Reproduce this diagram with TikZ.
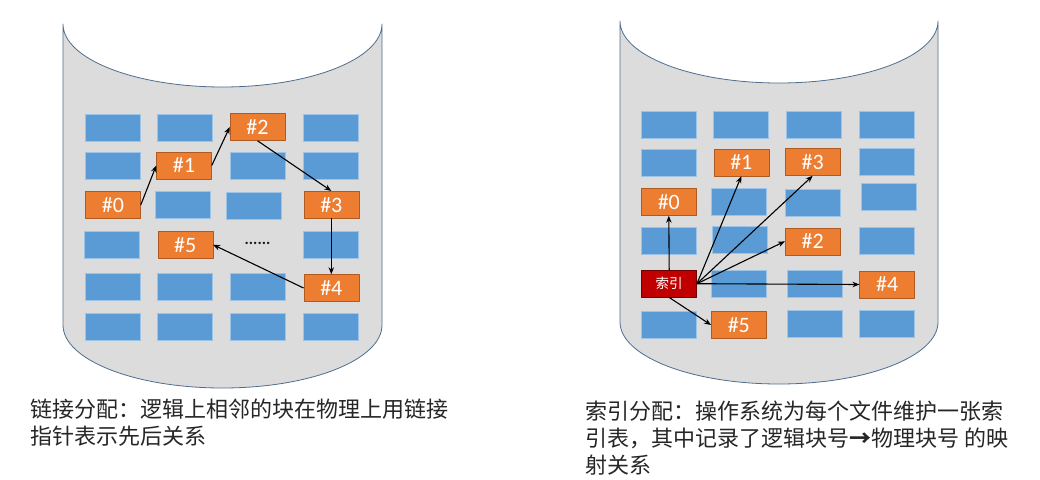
\documentclass[tikz,border=0pt]{standalone}
\usepackage{fontspec}
\setmainfont{Carlito}
\newfontfamily\cjk{Noto Sans CJK SC}
\usetikzlibrary{arrows.meta}
\definecolor{diskgray}{HTML}{DCDCDC}
\definecolor{diskline}{HTML}{4F6E8E}
\definecolor{blkblue}{HTML}{5B9BD5}
\definecolor{blkblueline}{HTML}{9DC3E6}
\definecolor{blkorange}{HTML}{ED7D31}
\definecolor{blkorangeline}{HTML}{AE5A21}
\definecolor{idxred}{HTML}{C00000}

\begin{document}
\begin{tikzpicture}[x=1pt, y=-1pt, line join=round, >={Stealth[length=7pt,width=5.5pt]},
	blk/.style={rectangle, minimum width=55pt, minimum height=27pt, inner sep=0pt, fill=blkblue, draw=blkblueline, line width=0.5pt},
	fileblk/.style={blk, fill=blkorange, draw=blkorangeline, text=white, font=\fontsize{22}{22}\selectfont},
	idxblk/.style={blk, fill=idxred, draw=idxred!55!black, text=white, font=\cjk\fontsize{13.5}{14}\selectfont},
	link/.style={->, line width=1.1pt, black},
	note/.style={anchor=north west, inner sep=0pt, align=left, font=\cjk\fontsize{22}{27}\selectfont, text=black!85}]
	\useasboundingbox (0,0) rectangle (1040,479);
	
	% 1. Disks (cylinders open at the top)
	\filldraw[fill=diskgray, draw=diskline, line width=0.8pt]
	(63,24) -- (63,325) arc[start angle=180, end angle=360, x radius=159.5pt, y radius=63pt]
	-- (382,24) arc[start angle=0, end angle=-180, x radius=159.5pt, y radius=63pt] -- cycle;
	\filldraw[fill=diskgray, draw=diskline, line width=0.8pt]
	(620,21) -- (620,322) arc[start angle=180, end angle=360, x radius=159pt, y radius=62pt]
	-- (938,21) arc[start angle=0, end angle=-180, x radius=159pt, y radius=62pt] -- cycle;
	
	% 2. Left disk: linked allocation
	\node[blk] (L11) at (113,128) {};
	\node[blk] (L12) at (185,128) {};
	\node[fileblk] (L2) at (257.5,127) {\#2};
	\node[blk] (L14) at (331,128) {};
	
	\node[blk] (L21) at (113,165.5) {};
	\node[fileblk] (L1) at (184,165.5) {\#1};
	\node[blk] (L23) at (257.5,165.5) {};
	\node[blk] (L24) at (331,165.5) {};
	
	\node[fileblk] (L0) at (113,205) {\#0};
	\node[blk] (L32) at (182.8,205) {};
	\node[blk] (L33) at (253.8,205.7) {};
	\node[fileblk] (L3) at (331.3,204.7) {\#3};
	
	\node[blk] (L41) at (111.7,244.3) {};
	\node[fileblk] (L5) at (185.3,244.7) {\#5};
	\node[text=black!90, font=\bfseries\fontsize{16}{16}\selectfont] (dots) at (257.5,243) {......};
	\node[blk] (L44) at (331,244.3) {};
	
	\node[blk] (L51) at (113,286.7) {};
	\node[blk] (L52) at (185,286.7) {};
	\node[blk] (L53) at (257.5,286.7) {};
	\node[fileblk] (L4) at (331.3,288) {\#4};
	
	\node[blk] (L61) at (113,327) {};
	\node[blk] (L62) at (185,327) {};
	\node[blk] (L63) at (257.5,327) {};
	\node[blk] (L64) at (331,327) {};
	
	% Pointers from block to block
	\draw[link] (L0.east) -- (L1.west);
	\draw[link] (L1.east) -- (L2.west);
	\draw[link] (L2.south) -- (L3.north);
	\draw[link] (L3.south) -- (L4.north);
	\draw[link] (L4.west) -- (L5.east);
	
	% 3. Right disk: indexed allocation
	\node[blk] (R11) at (668.8,125) {};
	\node[blk] (R12) at (741.2,125) {};
	\node[blk] (R13) at (813.7,125) {};
	\node[blk] (R14) at (887.2,125) {};
	
	\node[blk] (R21) at (668.8,162.3) {};
	\node[fileblk] (R1) at (741.3,162.5) {\#1};
	\node[fileblk] (R3) at (812.7,162) {\#3};
	\node[blk] (R24) at (887.2,162) {};
	
	\node[fileblk] (R0) at (668.8,202) {\#0};
	\node[blk] (R32) at (738.8,202) {};
	\node[blk] (R33) at (812.5,202.7) {};
	\node[blk] (R34) at (888.7,196.3) {};
	
	\node[blk] (R41) at (668.3,241) {};
	\node[blk] (R42) at (740,240) {};
	\node[fileblk] (R2) at (812.7,241.3) {\#2};
	\node[blk] (R44) at (887.2,241) {};
	
	\node[idxblk] (idx) at (669.2,283.7) {索引};
	\node[blk] (R52) at (738.8,283.7) {};
	\node[blk] (R53) at (814.8,283.3) {};
	\node[fileblk] (R4) at (887.2,284.5) {\#4};
	
	\node[blk] (R61) at (668.8,324.5) {};
	\node[fileblk] (R5) at (738.8,325) {\#5};
	\node[blk] (R63) at (814.8,323.7) {};
	\node[blk] (R64) at (887.2,323.7) {};
	
	% Index table entries
	\draw[link] (idx.north) -- (R0.south);
	\draw[link] (idx.east) -- (R1.south);
	\draw[link] (idx.east) -- (R3.south);
	\draw[link] (idx.east) -- (R2.west);
	\draw[link] (idx.east) -- (R4.west);
	\draw[link] (idx.south) -- (R5.west);
	
	% 4. Captions
	\node[note] (leftnote) at (30,399) {链接分配：逻辑上相邻的块在物理上用链接\\指针表示先后关系};
	\node[note] (rightnote) at (585,401) {索引分配：操作系统为每个文件维护一张索\\引表，其中记录了逻辑块号{\bfseries →}物理块号 的映\\射关系};
\end{tikzpicture}
\end{document}
